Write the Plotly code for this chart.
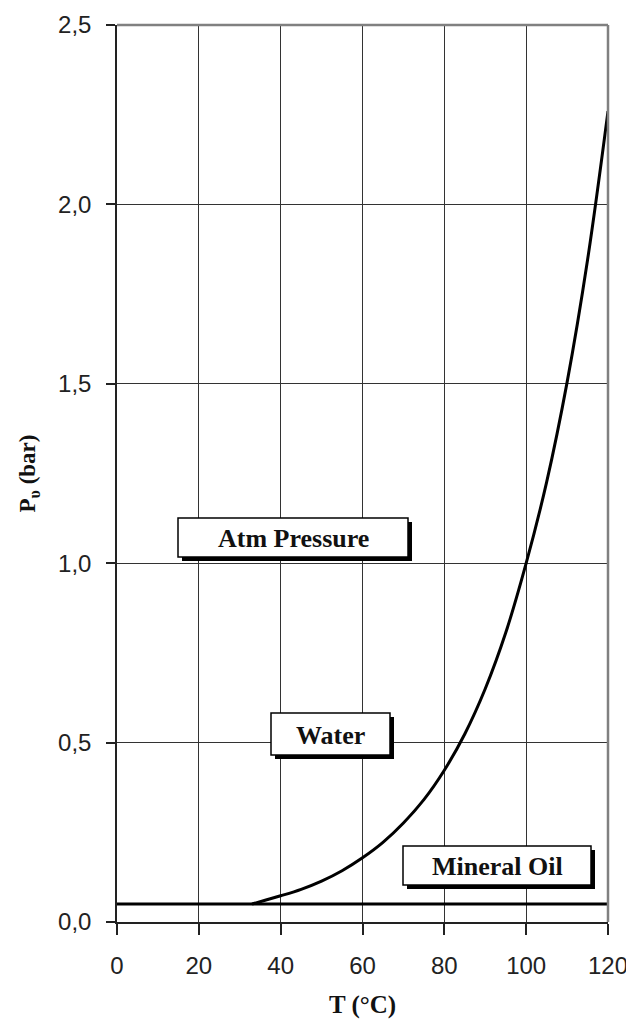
import plotly.graph_objects as go

# Data
water_T = [33, 36, 40, 45, 50, 55, 60, 65, 70, 75, 80, 85, 90, 95, 100, 105, 110, 115, 120]
water_P = [0.05, 0.06, 0.073, 0.091, 0.114, 0.143, 0.179, 0.222, 0.276, 0.341, 0.423, 0.524, 0.650, 0.806, 1.0, 1.226, 1.504, 1.845, 2.26]
oil_T = [0, 120]
oil_P = [0.05, 0.05]
x_ticks = [0, 20, 40, 60, 80, 100, 120]
y_ticks = [0.0, 0.5, 1.0, 1.5, 2.0, 2.5]
labels = ["Atm Pressure", "Water", "Mineral Oil"]

# page is drawn with an 8px body margin
OFF = 8
W, H = 634 - OFF, 1028 - OFF
# plot area in page pixels
L, R, T, B = 117, 608, 25, 922


def px(x):
    return (x - L) / (R - L)


def py(y):
    return (B - y) / (B - T)


fig = go.Figure()
fig.add_trace(go.Scatter(x=oil_T, y=oil_P, mode="lines",
                         line=dict(color="black", width=3), hoverinfo="skip"))
fig.add_trace(go.Scatter(x=water_T, y=water_P, mode="lines",
                         line=dict(color="black", width=3, shape="spline", smoothing=1.0),
                         hoverinfo="skip"))

# label boxes (page pixel positions) : x0, x1, y0, y1
boxes = [(178, 408, 518, 557), (271, 390, 713, 755), (403, 591, 846, 885)]
shapes = []
annotations = []
for (x0, x1, y0, y1), text in zip(boxes, labels):
    d = 4
    shapes.append(dict(type="rect", xref="paper", yref="paper",
                       x0=px(x0 + d), x1=px(x1 + d), y0=py(y1 + d), y1=py(y0 + d),
                       fillcolor="black", line=dict(width=0), layer="above"))
    shapes.append(dict(type="rect", xref="paper", yref="paper",
                       x0=px(x0), x1=px(x1), y0=py(y1), y1=py(y0),
                       fillcolor="white", line=dict(color="black", width=1.5), layer="above"))
    annotations.append(dict(xref="paper", yref="paper", x=px((x0 + x1) / 2), y=py((y0 + y1) / 2 + 1),
                            text="<b>%s</b>" % text, showarrow=False,
                            font=dict(family="Liberation Serif", size=26, color="#111"),
                            xanchor="center", yanchor="middle"))

# top and right frame (gray)
shapes.append(dict(type="line", xref="paper", yref="paper", x0=0, x1=1, y0=1, y1=1,
                   line=dict(color="#808080", width=2.5)))
shapes.append(dict(type="line", xref="paper", yref="paper", x0=1, x1=1, y0=0, y1=1,
                   line=dict(color="#808080", width=2.5)))

fig.update_layout(
    width=W, height=H,
    margin=dict(l=L - OFF, r=634 - R, t=T - OFF, b=1028 - B, autoexpand=False),
    paper_bgcolor="white", plot_bgcolor="white",
    showlegend=False,
    separators=",.",
    shapes=shapes,
    annotations=annotations,
    font=dict(family="Liberation Sans", color="#222"),
)
fig.update_xaxes(range=[0, 120], tickvals=x_ticks, ticks="outside", ticklen=11,
                 tickcolor="#222", tickwidth=1.5, automargin=False,
                 ticklabelstandoff=10,
                 showgrid=True, gridcolor="#333", gridwidth=1,
                 showline=True, linecolor="#222", linewidth=1.5, zeroline=False,
                 tickfont=dict(size=24, color="#222"),
                 title=dict(text="<b>T (°C)</b>", font=dict(family="Liberation Serif", size=25, color="#111"),
                            standoff=18))
fig.update_yaxes(range=[0, 2.5], tickvals=y_ticks, tickformat=".1f", ticks="outside", ticklen=9,
                 tickcolor="#222", tickwidth=1.5, automargin=False,
                 ticklabelstandoff=10,
                 showgrid=True, gridcolor="#333", gridwidth=1,
                 showline=True, linecolor="#222", linewidth=1.5, zeroline=False,
                 tickfont=dict(size=24, color="#222"),
                 title=dict(text="<b>P<sub>υ</sub> (bar)</b>", font=dict(family="Liberation Serif", size=23, color="#111"),
                            standoff=16))

fig.write_html("out.html")
